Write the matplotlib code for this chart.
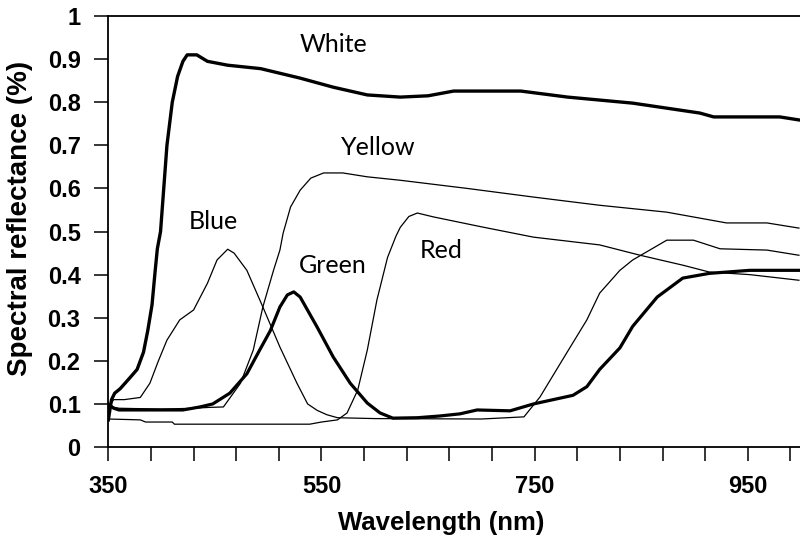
import matplotlib
matplotlib.use("Agg")
import matplotlib.pyplot as plt

# spectral reflectance curves
white_wl = [350, 353, 356, 361, 370, 377, 383, 387, 391, 394, 396, 399, 402, 405, 410, 415, 420,
            424, 433, 443, 462, 493, 530, 561, 593, 624, 650, 674, 737, 781, 842, 905, 918, 980, 998]
white_r = [0.063, 0.11, 0.125, 0.135, 0.16, 0.18, 0.22, 0.27, 0.33, 0.41, 0.46, 0.50, 0.60, 0.70, 0.80,
           0.86, 0.895, 0.91, 0.91, 0.895, 0.886, 0.878, 0.856, 0.835, 0.817, 0.812, 0.815, 0.826, 0.826,
           0.812, 0.798, 0.775, 0.766, 0.766, 0.759]

yellow_wl = [350, 360, 400, 430, 445, 458, 474, 486, 495, 505, 511, 514, 521, 530, 540, 552, 570, 593,
             624, 687, 749, 811, 874, 930, 942, 968, 998]
yellow_r = [0.095, 0.09, 0.088, 0.09, 0.092, 0.093, 0.148, 0.225, 0.325, 0.41, 0.457, 0.496, 0.557, 0.596,
            0.624, 0.636, 0.636, 0.627, 0.619, 0.60, 0.58, 0.561, 0.545, 0.52, 0.52, 0.52, 0.508]

blue_wl = [350, 355, 365, 380, 389, 397, 405, 417, 430, 443, 452, 462, 468, 474, 480, 495, 511, 527, 537,
           546, 555, 565, 600, 700, 740, 755, 780, 799, 811, 830, 842, 874, 899, 924, 968, 998]
blue_r = [0.09, 0.11, 0.11, 0.115, 0.148, 0.20, 0.248, 0.295, 0.318, 0.38, 0.434, 0.459, 0.45, 0.43, 0.41,
          0.325, 0.232, 0.148, 0.10, 0.085, 0.075, 0.068, 0.066, 0.065, 0.07, 0.116, 0.218, 0.295, 0.357,
          0.41, 0.434, 0.48, 0.48, 0.46, 0.457, 0.445]

green_wl = [350, 355, 360, 420, 436, 448, 464, 480, 492, 502, 511, 518, 524, 530, 546, 561, 577, 593, 605,
            617, 640, 661, 680, 696, 727, 749, 786, 799, 811, 830, 842, 865, 889, 914, 952, 998]
green_r = [0.10, 0.09, 0.086, 0.086, 0.093, 0.10, 0.125, 0.17, 0.225, 0.27, 0.325, 0.353, 0.36, 0.348,
           0.278, 0.209, 0.148, 0.102, 0.079, 0.067, 0.068, 0.072, 0.077, 0.086, 0.084, 0.10, 0.12, 0.14,
           0.18, 0.23, 0.28, 0.348, 0.392, 0.403, 0.41, 0.41]

red_wl = [350, 380, 385, 410, 412, 539, 550, 565, 574, 584, 593, 602, 612, 620, 624, 632, 640, 655, 702,
          749, 811, 849, 889, 914, 952, 998]
red_r = [0.065, 0.063, 0.058, 0.058, 0.053, 0.053, 0.058, 0.063, 0.079, 0.132, 0.225, 0.341, 0.44, 0.49,
         0.51, 0.535, 0.543, 0.534, 0.51, 0.487, 0.469, 0.445, 0.422, 0.406, 0.40, 0.387]

labels = ["White", "Yellow", "Blue", "Green", "Red"]
label_x = [561, 603, 449, 561, 662]
label_y = [0.935, 0.694, 0.524, 0.422, 0.455]

fig = plt.figure(figsize=(8, 5.36), dpi=100)
ax = fig.add_axes([0.1354, 0.166, 0.8646, 0.804])

ax.plot(white_wl, white_r, color="black", lw=2.4, solid_joinstyle="round")
ax.plot(yellow_wl, yellow_r, color="black", lw=0.9)
ax.plot(blue_wl, blue_r, color="black", lw=0.9)
ax.plot(green_wl, green_r, color="black", lw=2.3, solid_joinstyle="round")
ax.plot(red_wl, red_r, color="black", lw=0.9)

for name, x, y in zip(labels, label_x, label_y):
    ax.text(x, y, name, fontsize=18, family="Lato", ha="center", va="center")

ax.set_xlim(350, 999)
ax.set_ylim(0, 1)
ax.set_xticks(range(350, 1000, 40), minor=True)
ax.set_xticks([350, 550, 750, 950])
ax.set_yticks([0, 0.1, 0.2, 0.3, 0.4, 0.5, 0.6, 0.7, 0.8, 0.9, 1])
ax.set_yticklabels(["0", "0.1", "0.2", "0.3", "0.4", "0.5", "0.6", "0.7", "0.8", "0.9", "1"])

for s in ["left", "bottom", "top"]:
    ax.spines[s].set_linewidth(1.3)
ax.spines["right"].set_visible(False)

ax.tick_params(axis="both", which="both", direction="out", length=10, width=1.1, pad=10)
for lab in ax.get_xticklabels() + ax.get_yticklabels():
    lab.set_family("Liberation Sans")
    lab.set_fontweight("bold")
    lab.set_fontsize(17)

ax.set_xlabel("Wavelength (nm)", family="Liberation Sans", fontweight="bold", fontsize=18.5)
ax.set_ylabel("Spectral reflectance (%)", family="Liberation Sans", fontweight="bold", fontsize=20)
ax.xaxis.set_label_coords((441 - 108) / 692, -(511 - 447) / 431)
ax.yaxis.set_label_coords(-(108 - 33) / 692, (447 - 218) / 431)

fig.savefig("out.png", dpi=100)
